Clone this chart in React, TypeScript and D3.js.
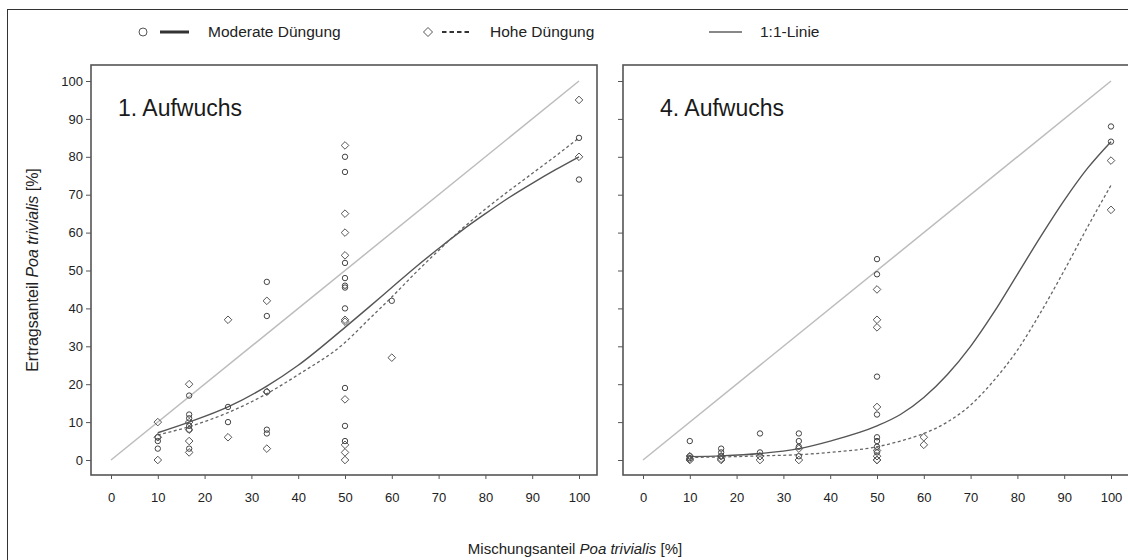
import React, { useEffect, useRef } from 'react';
import * as d3 from 'd3';

// tick labels
const xTicks = [0, 10, 20, 30, 40, 50, 60, 70, 80, 90, 100];
const yTicks = [0, 10, 20, 30, 40, 50, 60, 70, 80, 90, 100];

// 1. Aufwuchs – observed values [mixture share, yield share]
const a1Moderate: [number, number][] = [
  [10, 6], [10, 5], [10, 3],
  [16.7, 17], [16.7, 12], [16.7, 11], [16.7, 9], [16.7, 8], [16.7, 3],
  [25, 14], [25, 10],
  [33.3, 47], [33.3, 38], [33.3, 18], [33.3, 8], [33.3, 7],
  [50, 80], [50, 76], [50, 52], [50, 48], [50, 46], [50, 45.5], [50, 40], [50, 19], [50, 9], [50, 5],
  [60, 42],
  [100, 85], [100, 74],
];
const a1Hohe: [number, number][] = [
  [10, 10], [10, 6], [10, 0],
  [16.7, 20], [16.7, 10], [16.7, 8], [16.7, 5], [16.7, 2],
  [25, 37], [25, 6],
  [33.3, 42], [33.3, 18], [33.3, 3],
  [50, 83], [50, 65], [50, 60], [50, 54], [50, 37], [50, 36.5], [50, 16], [50, 4], [50, 2], [50, 0],
  [60, 27],
  [100, 95], [100, 80],
];

// 4. Aufwuchs
const a4Moderate: [number, number][] = [
  [10, 5], [10, 1], [10, 0.5],
  [16.7, 3], [16.7, 2], [16.7, 1],
  [25, 7], [25, 2],
  [33.3, 7], [33.3, 5], [33.3, 3.5], [33.3, 1],
  [50, 53], [50, 49], [50, 22], [50, 12], [50, 6], [50, 5], [50, 3.5], [50, 2],
  [100, 88], [100, 84],
];
const a4Hohe: [number, number][] = [
  [10, 0], [10, 0.3], [10, 1],
  [16.7, 1], [16.7, 0.3], [16.7, 0],
  [25, 1], [25, 0],
  [33.3, 3], [33.3, 0],
  [50, 45], [50, 37], [50, 35], [50, 14], [50, 2.5], [50, 1], [50, 0], [50, 0],
  [60, 6], [60, 4],
  [100, 79], [100, 66],
];

// fitted curves
const curveX = [10, 16.7, 25, 33.3, 40, 50, 55, 60, 65, 70, 75, 80, 85, 90, 95, 100];
const a1ModFit = [7.2, 10, 14, 19.5, 25, 35, 40.2, 45.5, 50.8, 55.8, 60.6, 65, 69.2, 73, 76.6, 80];
const a1HoheFit = [6.6, 8.8, 12.5, 17.5, 22.5, 31, 37, 43, 49.3, 55.3, 61, 66.2, 71, 75.6, 80.2, 85];
const a4ModFit = [0.9, 1.1, 1.7, 3, 5, 9, 12, 16.5, 22.5, 30, 39, 49, 59, 68.5, 77, 84];
const a4HoheFit = [0.7, 0.8, 1.1, 1.4, 2, 3.5, 5, 7, 10, 14.5, 21, 29, 39, 50, 61.5, 72.5];

const panels = [
  { title: '1. Aufwuchs', left: 91, titleX: 118, mod: a1Moderate, hohe: a1Hohe, modFit: a1ModFit, hoheFit: a1HoheFit, labels: true },
  { title: '4. Aufwuchs', left: 623, titleX: 660, mod: a4Moderate, hohe: a4Hohe, modFit: a4ModFit, hoheFit: a4HoheFit, labels: false },
];

const FONT = '"Liberation Sans", Arial, sans-serif';
const diamond = (r: number) => `M0,${-r}L${r},0L0,${r}L${-r},0Z`;

const App = () => {
  const svgRef = useRef<SVGSVGElement>(null);

  useEffect(() => {
    const svg = d3.select(svgRef.current);
    svg.selectAll('*').remove();

    // outer frame
    svg.append('rect')
      .attr('x', 7.5).attr('y', 9.5).attr('width', 1140).attr('height', 570)
      .attr('fill', 'none').attr('stroke', '#333').attr('stroke-width', 1);

    const y = d3.scaleLinear().domain([0, 100]).range([460, 81]);

    panels.forEach(p => {
      const x = d3.scaleLinear().domain([0, 100]).range([p.left + 20, p.left + 488]);
      const g = svg.append('g');

      // x axis
      const xa = g.append('g')
        .attr('transform', 'translate(0,475)')
        .call(d3.axisBottom(x).tickValues(xTicks).tickSize(4).tickPadding(14));
      xa.select('.domain').remove();
      xa.selectAll('line').attr('stroke', '#555');
      xa.selectAll('text').attr('font-size', 13).attr('font-family', FONT).attr('fill', '#222');

      // y axis
      const ya = g.append('g')
        .attr('transform', `translate(${p.left},0)`)
        .call(d3.axisLeft(y).tickValues(yTicks).tickSize(5).tickPadding(3)
          .tickFormat(p.labels ? (d => String(d)) : () => ''));
      ya.select('.domain').remove();
      ya.selectAll('line').attr('stroke', '#555');
      ya.selectAll('text').attr('font-size', 13).attr('font-family', FONT).attr('fill', '#222');

      // 1:1 line
      g.append('line')
        .attr('x1', x(0)).attr('y1', y(0)).attr('x2', x(100)).attr('y2', y(100))
        .attr('stroke', '#bdbdbd').attr('stroke-width', 1.5);

      const line = d3.line<number>()
        .x((_, i) => x(curveX[i]))
        .y(d => y(d))
        .curve(d3.curveMonotoneX);

      g.append('path').attr('d', line(p.modFit))
        .attr('fill', 'none').attr('stroke', '#555').attr('stroke-width', 1.4);
      g.append('path').attr('d', line(p.hoheFit))
        .attr('fill', 'none').attr('stroke', '#666').attr('stroke-width', 1.3)
        .attr('stroke-dasharray', '3,2.5');

      // points
      g.selectAll('.mod').data(p.mod).enter().append('circle')
        .attr('cx', d => x(d[0])).attr('cy', d => y(d[1])).attr('r', 2.7)
        .attr('fill', 'none').attr('stroke', '#444').attr('stroke-width', 1);
      g.selectAll('.hohe').data(p.hohe).enter().append('path')
        .attr('d', diamond(3.8))
        .attr('transform', d => `translate(${x(d[0])},${y(d[1])})`)
        .attr('fill', 'none').attr('stroke', '#555').attr('stroke-width', 1);

      // frame
      g.append('rect')
        .attr('x', p.left).attr('y', 65).attr('width', 506).attr('height', 410)
        .attr('fill', 'none').attr('stroke', '#555').attr('stroke-width', 1.6);

      g.append('text')
        .attr('x', p.titleX).attr('y', 116)
        .attr('font-size', 23).attr('font-family', FONT).attr('fill', '#1a1a1a')
        .text(p.title);
    });

    // legend
    const lg = svg.append('g').attr('font-family', FONT).attr('font-size', 15.5).attr('fill', '#222');
    lg.append('circle').attr('cx', 143).attr('cy', 32).attr('r', 4)
      .attr('fill', 'none').attr('stroke', '#555').attr('stroke-width', 1);
    lg.append('line').attr('x1', 160).attr('x2', 189).attr('y1', 32).attr('y2', 32)
      .attr('stroke', '#333').attr('stroke-width', 3);
    lg.append('text').attr('x', 208).attr('y', 37).text('Moderate Düngung');
    lg.append('path').attr('d', diamond(4.5)).attr('transform', 'translate(428,32)')
      .attr('fill', 'none').attr('stroke', '#555').attr('stroke-width', 1);
    lg.append('line').attr('x1', 442).attr('x2', 471).attr('y1', 32).attr('y2', 32)
      .attr('stroke', '#333').attr('stroke-width', 2).attr('stroke-dasharray', '4.5,3');
    lg.append('text').attr('x', 490).attr('y', 37).text('Hohe Düngung');
    lg.append('line').attr('x1', 709).attr('x2', 742).attr('y1', 32).attr('y2', 32)
      .attr('stroke', '#888').attr('stroke-width', 2);
    lg.append('text').attr('x', 760).attr('y', 37).text('1:1-Linie');

    // axis titles
    const xt = svg.append('text')
      .attr('x', 575).attr('y', 554).attr('text-anchor', 'middle')
      .attr('font-family', FONT).attr('font-size', 15).attr('fill', '#222');
    xt.append('tspan').text('Mischungsanteil ');
    xt.append('tspan').attr('font-style', 'italic').text('Poa trivialis');
    xt.append('tspan').text(' [%]');

    const yt = svg.append('text')
      .attr('transform', 'translate(38,270) rotate(-90)').attr('text-anchor', 'middle')
      .attr('font-family', FONT).attr('font-size', 16).attr('fill', '#222');
    yt.append('tspan').text('Ertragsanteil ');
    yt.append('tspan').attr('font-style', 'italic').text('Poa trivialis');
    yt.append('tspan').text(' [%]');
  }, []);

  return (
    <svg ref={svgRef} width={1128} height={560}
      style={{ position: 'absolute', left: 0, top: 0, background: '#fff' }} />
  );
};

export default App;
